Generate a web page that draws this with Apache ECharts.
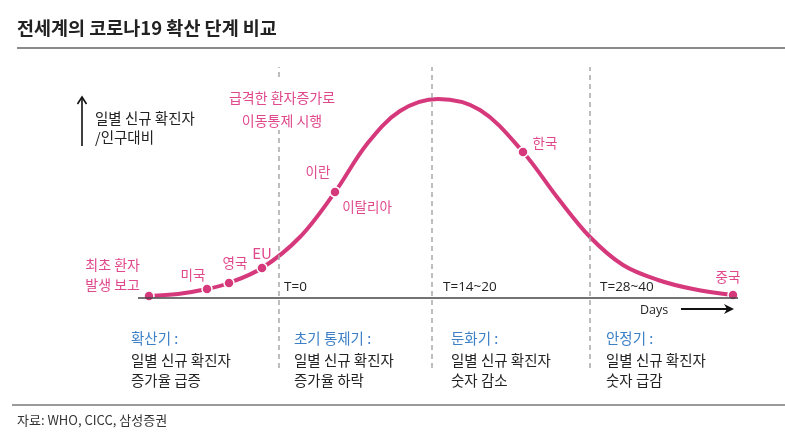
<!DOCTYPE html>
<html>
<head>
<meta charset="utf-8">
<script src="https://cdn.jsdelivr.net/npm/echarts@6/dist/echarts.min.js"></script>
<style>
html, body { margin: 0; padding: 0; background: #fff; }
#main { width: 785px; height: 447px; }
</style>
</head>
<body>
<div id="main"></div>
<script>
// curve (x: position along the time axis, y: daily new cases per population)
var curveX = [11, 40, 69, 91, 124, 162, 197, 229, 262, 300, 342, 385, 419, 452, 485, 520, 555, 595];
var curveY = [1, 2, 4.5, 7.5, 15, 30.5, 53, 77, 93.5, 99.5, 94, 73, 50.5, 30.5, 16.5, 9, 4.5, 1.5];

// countries marked on the curve
var countryNames = ['최초 환자\n발생 보고', '미국', '영국', 'EU', '이란', '이탈리아', '한국', '중국'];
var countryX = [11, 69, 91, 124, 197, 197, 385, 595];
var countryY = [1, 4.5, 7.5, 15, 53, 53, 73, 1.5];

// phase boundaries and their labels
var phaseX = [141, 294, 452];
var phaseTicks = ['T=0', 'T=14~20', 'T=28~40'];
var phaseTitles = ['확산기 :', '초기 통제기 :', '둔화기 :', '안정기 :'];
var phaseLine1 = ['일별 신규 확진자', '일별 신규 확진자', '일별 신규 확진자', '일별 신규 확진자'];
var phaseLine2 = ['증가율 급증', '증가율 하락', '숫자 감소', '숫자 급감'];

var FONT = '"Noto Sans CJK KR", "Noto Sans", sans-serif';
var PINK = '#d6387c';
var PINK_TEXT = '#e0488c';

var dom = document.getElementById('main');
var myChart = echarts.init(dom);

// label offsets relative to each dot
var labelOffsets = {
    '최초 환자\n발생 보고': [-9, -21],
    '미국': [-14, -14],
    '영국': [6, -20],
    'EU': [0, -15],
    '이란': [-17, -20],
    '이탈리아': [32, 15],
    '한국': [22, -9],
    '중국': [-5, -18]
};

var curveData = curveX.map(function (x, i) { return [x, curveY[i]]; });
var countryData = countryNames.map(function (name, i) {
    var first = i === 0;
    return {
        name: name,
        value: [countryX[i], countryY[i]],
        label: {
            offset: labelOffsets[name],
            align: first ? 'right' : 'center',
            fontSize: name === 'EU' ? 15 : (first ? 14 : 13.5),
            lineHeight: 20
        }
    };
});

// dashed boundaries; the first one leaves a gap for the pink note
var phaseLines = [];
phaseX.forEach(function (x, i) {
    if (i === 0) {
        phaseLines.push([{coord: [x, -35]}, {coord: [x, 84]}]);
        phaseLines.push([{coord: [x, 110.5]}, {coord: [x, 115.5]}]);
    } else {
        phaseLines.push([{coord: [x, -35]}, {coord: [x, 115.5]}]);
    }
});

function txt(x, y, text, size, color, extra) {
    var style = {text: text, font: size + 'px ' + FONT, fill: color, verticalAlign: 'middle'};
    for (var k in extra) style[k] = extra[k];
    return {type: 'text', x: x, y: y, z: 10, style: style};
}

var graphics = [
    txt(17, 28, '전세계의 코로나19 확산 단계 비교', 18.5, '#222', {font: 'bold 18.5px ' + FONT}),
    {type: 'line', shape: {x1: 17, y1: 48, x2: 785, y2: 48}, style: {stroke: '#8a8a8a', lineWidth: 2}},
    {type: 'line', shape: {x1: 12, y1: 405, x2: 785, y2: 405}, style: {stroke: '#9a9a9a', lineWidth: 2}},
    txt(17, 420, '자료: WHO, CICC, 삼성증권', 13, '#333', {font: '13px "Liberation Sans Narrow", ' + FONT}),
    // y axis arrow
    {type: 'line', shape: {x1: 82, y1: 146, x2: 82, y2: 98}, style: {stroke: '#111', lineWidth: 1.6}},
    {type: 'polyline', shape: {points: [[77.5, 104], [82, 97], [86.5, 104]]}, style: {stroke: '#111', lineWidth: 1.6, fill: null}},
    txt(95, 118, '일별 신규 확진자', 14.5, '#222'),
    txt(95, 137, '/인구대비', 14.5, '#222'),
    txt(282, 98, '급격한 환자증가로', 14, PINK_TEXT, {align: 'center'}),
    txt(282, 121, '이동통제 시행', 14, PINK_TEXT, {align: 'center'}),
    // days arrow
    txt(640, 310, 'Days', 12.5, '#222', {font: '12.5px "Open Sans", ' + FONT}),
    {type: 'line', shape: {x1: 681, y1: 309, x2: 728, y2: 309}, style: {stroke: '#111', lineWidth: 1.8}},
    {type: 'polygon', shape: {points: [[724, 304], [734, 309], [724, 314], [727, 309]]}, style: {fill: '#111'}}
];

phaseTicks.forEach(function (t, i) {
    graphics.push(txt([284, 443, 600][i], 287, t, 13.5, '#222', {font: '13.5px "Open Sans", ' + FONT}));
});
var phaseLeft = [131, 294, 451, 606];
phaseTitles.forEach(function (t, i) {
    graphics.push(txt(phaseLeft[i], 338, t, 14.5, '#3d80c6'));
    graphics.push(txt(phaseLeft[i], 360, phaseLine1[i], 14.5, '#222'));
    graphics.push(txt(phaseLeft[i], 380, phaseLine2[i], 14.5, '#222'));
});

var option = {
    animation: false,
    textStyle: {fontFamily: FONT},
    grid: {left: 138, right: 47, top: 67, bottom: 79},
    xAxis: {type: 'value', min: 0, max: 600, show: false},
    yAxis: {type: 'value', min: -35, max: 115.5, show: false},
    graphic: graphics,
    series: [
        {
            type: 'line',
            data: [],
            z: 1,
            markLine: {
                silent: true,
                symbol: 'none',
                label: {show: false},
                lineStyle: {color: '#a8a8a8', type: [5, 4], width: 1.5},
                data: phaseLines
            }
        },
        {
            type: 'line',
            data: [],
            z: 2,
            markLine: {
                silent: true,
                symbol: 'none',
                label: {show: false},
                lineStyle: {color: '#444', type: 'solid', width: 1.5},
                data: [[{coord: [0, 0]}, {coord: [600, 0]}]]
            }
        },
        {
            type: 'line',
            data: curveData,
            smooth: 0.35,
            showSymbol: false,
            z: 3,
            lineStyle: {color: PINK, width: 4}
        },
        {
            type: 'scatter',
            data: countryData,
            z: 4,
            symbolSize: 10,
            itemStyle: {color: PINK, borderColor: '#fff', borderWidth: 1.5, opacity: 1},
            label: {
                show: true,
                position: 'inside',
                formatter: '{b}',
                color: PINK_TEXT,
                fontFamily: FONT
            }
        }
    ]
};

if (option && typeof option === "object") {
    myChart.setOption(option, true);
}
</script>
</body>
</html>
